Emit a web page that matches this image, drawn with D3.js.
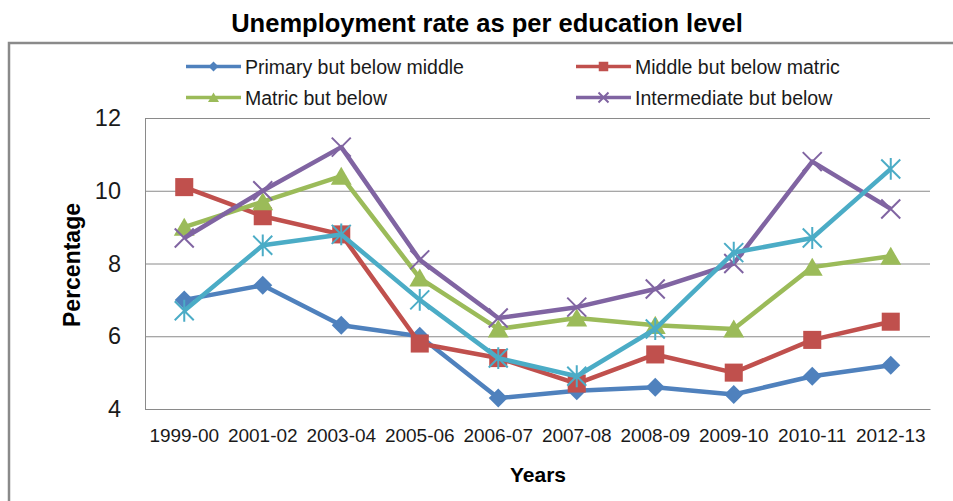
<!DOCTYPE html>
<html lang="en">
<head>
<meta charset="utf-8">
<title>Unemployment rate as per education level</title>
<script src="https://cdn.jsdelivr.net/npm/d3@7"></script>
<style>
    html, body { margin: 0; padding: 0; background: #fff; }
    svg { display: block; font-family: "Liberation Sans", Arial, sans-serif; }
    .grid line { stroke: #8a8a8a; stroke-width: 1; }
    .grid .domain { display: none; }
    .axis .domain { stroke: #8a8a8a; stroke-width: 1; }
    .axis text { fill: #1a1a1a; }
</style>
</head>
<body>
<svg id="chart" width="953" height="501"></svg>
<script>
// data
var years = ["1999-00", "2001-02", "2003-04", "2005-06", "2006-07", "2007-08", "2008-09", "2009-10", "2010-11", "2012-13"];
var yTicks = [4, 6, 8, 10, 12];

var primary      = [7.0, 7.4, 6.3, 6.0, 4.3, 4.5, 4.6, 4.4, 4.9, 5.2];
var middle       = [10.1, 9.3, 8.8, 5.8, 5.4, 4.7, 5.5, 5.0, 5.9, 6.4];
var matric       = [9.0, 9.7, 10.4, 7.6, 6.2, 6.5, 6.3, 6.2, 7.9, 8.2];
var intermediate = [8.7, 10.0, 11.2, 8.1, 6.5, 6.8, 7.3, 8.0, 10.8, 9.5];
var graduate     = [6.7, 8.5, 8.8, 7.0, 5.4, 4.9, 6.2, 8.3, 8.7, 10.6];   // 5th series, no legend entry

var names  = ["Primary but below middle", "Middle but below matric", "Matric but below", "Intermediate but below", "Graduate and above"];
var colors = ["#4f81bd", "#c0504d", "#9bbb59", "#8064a2", "#4bacc6"];
var shapes = ["diamond", "square", "triangle", "cross", "star"];

var series = [primary, middle, matric, intermediate, graduate].map(function (vals, i) {
    return { name: names[i], color: colors[i], shape: shapes[i], values: vals };
});

var svg = d3.select("#chart");
var plotLeft = 145, plotRight = 930, plotTop = 118, plotBottom = 409;

var x = d3.scaleBand().domain(years).range([plotLeft, plotRight]).padding(0);
var y = d3.scaleLinear().domain([4, 12]).range([plotBottom, plotTop]);

// outer frame (only top and left edges are in the picture)
svg.append("path")
    .attr("d", "M9,501 L9,43 L953,43")
    .attr("fill", "none")
    .attr("stroke", "#8a8a8a")
    .attr("stroke-width", 2.5);

// title
svg.append("text")
    .attr("x", 487).attr("y", 32)
    .attr("text-anchor", "middle")
    .attr("font-weight", "bold")
    .attr("font-size", 25.5)
    .attr("fill", "#000")
    .text("Unemployment rate as per education level");

// gridlines
svg.append("g")
    .attr("class", "grid")
    .attr("transform", "translate(" + plotLeft + ",0)")
    .call(d3.axisLeft(y).tickValues(yTicks).tickSize(-(plotRight - plotLeft)).tickFormat(""));

// axes
var yAxis = svg.append("g")
    .attr("class", "axis")
    .attr("transform", "translate(" + plotLeft + ",0)")
    .call(d3.axisLeft(y).tickValues(yTicks).tickSize(0).tickPadding(24));
yAxis.selectAll("text").attr("font-size", 23.5).attr("font-family", "Liberation Sans");

var xAxis = svg.append("g")
    .attr("class", "axis")
    .attr("transform", "translate(0," + plotBottom + ")")
    .call(d3.axisBottom(x).tickSize(0).tickPadding(20));
xAxis.selectAll("text").attr("font-size", 19).attr("font-family", "Liberation Sans");

// axis titles
svg.append("text")
    .attr("transform", "translate(80,265) rotate(-90)")
    .attr("text-anchor", "middle")
    .attr("font-weight", "bold")
    .attr("font-size", 23)
    .text("Percentage");

svg.append("text")
    .attr("x", 538).attr("y", 482)
    .attr("text-anchor", "middle")
    .attr("font-weight", "bold")
    .attr("font-size", 21)
    .text("Years");

// marker drawing
function marker(sel, shape, color, s) {
    if (shape === "diamond") {
        sel.append("path").attr("d", "M0," + (-s) + "L" + s + ",0L0," + s + "L" + (-s) + ",0Z").attr("fill", color);
    } else if (shape === "square") {
        var h = s * 0.95;
        sel.append("rect").attr("x", -h).attr("y", -h).attr("width", 2 * h).attr("height", 2 * h).attr("fill", color);
    } else if (shape === "triangle") {
        sel.append("path").attr("d", "M0," + (-s) + "L" + (s * 1.1) + "," + (s * 0.9) + "L" + (-s * 1.1) + "," + (s * 0.9) + "Z").attr("fill", color);
    } else if (shape === "cross") {
        sel.append("path").attr("d", "M" + (-s) + "," + (-s) + "L" + s + "," + s + "M" + (-s) + "," + s + "L" + s + "," + (-s))
            .attr("stroke", color).attr("stroke-width", 2).attr("fill", "none");
    } else if (shape === "star") {
        sel.append("path").attr("d", "M" + (-s) + "," + (-s) + "L" + s + "," + s + "M" + (-s) + "," + s + "L" + s + "," + (-s) + "M0," + (-s * 1.15) + "L0," + (s * 1.15))
            .attr("stroke", color).attr("stroke-width", 2).attr("fill", "none");
    }
}

var line = d3.line()
    .x(function (d, i) { return x(years[i]) + x.bandwidth() / 2; })
    .y(function (d) { return y(d); });

series.forEach(function (s) {
    var g = svg.append("g");
    g.append("path")
        .attr("d", line(s.values))
        .attr("fill", "none")
        .attr("stroke", s.color)
        .attr("stroke-width", 4.5)
        .attr("stroke-linejoin", "round");
    g.selectAll("g.pt")
        .data(s.values)
        .enter()
        .append("g")
        .attr("transform", function (d, i) { return "translate(" + (x(years[i]) + x.bandwidth() / 2) + "," + y(d) + ")"; })
        .each(function () { marker(d3.select(this), s.shape, s.color, 9.5); });
});

// legend (4 entries, 2 columns)
var legendPos = [[186, 66.5], [576, 66.5], [186, 97.5], [576, 97.5]];
series.slice(0, 4).forEach(function (s, i) {
    var p = legendPos[i];
    var g = svg.append("g").attr("transform", "translate(" + p[0] + "," + p[1] + ")");
    g.append("line").attr("x1", 0).attr("x2", 55).attr("y1", 0).attr("y2", 0)
        .attr("stroke", s.color).attr("stroke-width", 3.5);
    var m = g.append("g").attr("transform", "translate(27.5,0)");
    marker(m, s.shape, s.color, 5);
    g.append("text")
        .attr("x", 59).attr("y", 7)
        .attr("font-size", 19.5)
        .attr("fill", "#1a1a1a")
        .text(s.name);
});
</script>
</body>
</html>
